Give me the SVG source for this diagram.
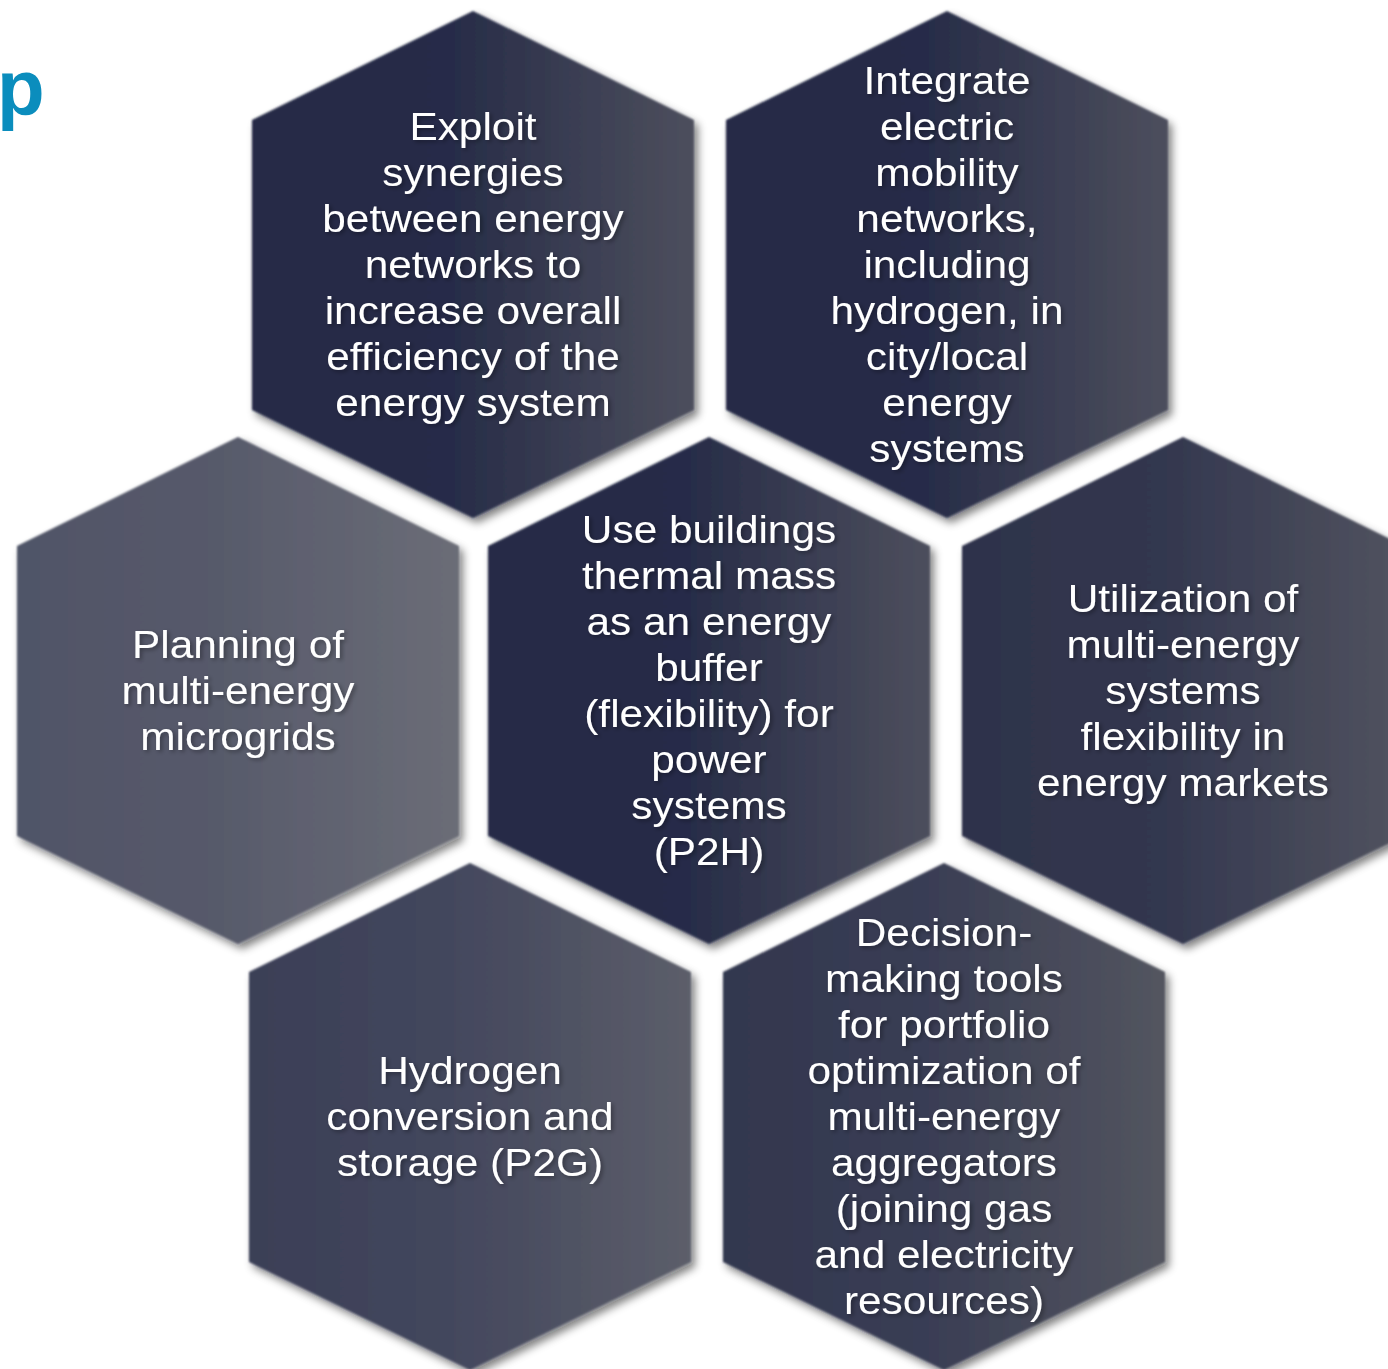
<svg xmlns="http://www.w3.org/2000/svg" width="1388" height="1369" viewBox="0 0 1388 1369">
  <style>
    .lbl { font-family: "Liberation Sans", Arial, sans-serif; font-size: 38px; fill: #ffffff; text-anchor: middle; filter: url(#txtShadow); }
    .hex { filter: url(#hexFx); }
    .title { font-family: "Liberation Sans", Arial, sans-serif; font-size: 78px; font-weight: bold; fill: #0b8dbd; }
  </style>
  <defs>
    <!-- hexagon: pointy top, half-width 221, height 507 -->
    <polygon id="hexShape" points="0,0 221,109 221,399 0,507 -221,399 -221,109"/>
    <filter id="hexFx" x="-10%" y="-10%" width="125%" height="125%">
      <feGaussianBlur in="SourceAlpha" stdDeviation="4" result="blur"/>
      <feOffset in="blur" dx="4" dy="5" result="off"/>
      <feFlood flood-color="#000000" flood-opacity="0.5"/>
      <feComposite in2="off" operator="in" result="shadow"/>
      <feGaussianBlur in="SourceGraphic" stdDeviation="0.9" result="soft"/>
      <feMerge>
        <feMergeNode in="shadow"/>
        <feMergeNode in="soft"/>
      </feMerge>
    </filter>
    <filter id="txtShadow" x="-10%" y="-10%" width="125%" height="125%">
      <feDropShadow dx="2" dy="2" stdDeviation="2" flood-color="#000000" flood-opacity="0.35"/>
    </filter>
    <linearGradient id="gNavy" x1="0" y1="0" x2="1" y2="0">
      <stop offset="0" stop-color="#252a46"/>
      <stop offset="0.45" stop-color="#272c48"/>
      <stop offset="1" stop-color="#4d4f5d"/>
    </linearGradient>
    <linearGradient id="gGrey" x1="0" y1="0" x2="1" y2="0">
      <stop offset="0" stop-color="#505467"/>
      <stop offset="0.45" stop-color="#575a6b"/>
      <stop offset="1" stop-color="#6b6d77"/>
    </linearGradient>
    <linearGradient id="gSlate" x1="0" y1="0" x2="1" y2="0">
      <stop offset="0" stop-color="#2e334b"/>
      <stop offset="0.45" stop-color="#33374f"/>
      <stop offset="1" stop-color="#51535f"/>
    </linearGradient>
    <linearGradient id="gMist" x1="0" y1="0" x2="1" y2="0">
      <stop offset="0" stop-color="#3b3f57"/>
      <stop offset="0.45" stop-color="#43475d"/>
      <stop offset="1" stop-color="#5c5e6a"/>
    </linearGradient>
    <linearGradient id="gDusk" x1="0" y1="0" x2="1" y2="0">
      <stop offset="0" stop-color="#33374f"/>
      <stop offset="0.45" stop-color="#393d54"/>
      <stop offset="1" stop-color="#53555f"/>
    </linearGradient>
  </defs>

  <rect width="1388" height="1369" fill="#ffffff"/>

  <!-- partial heading letter at the left edge -->
  <text class="title" x="-3" y="115">p</text>

  <g id="connectors"/>

  <g id="node-exploit">
    <use href="#hexShape" class="hex" fill="url(#gNavy)" transform="translate(473,11)"/>
    <text class="lbl" transform="translate(473,0) scale(1.115,1)"><tspan x="0" y="140">Exploit</tspan><tspan x="0" y="186">synergies</tspan><tspan x="0" y="232">between energy</tspan><tspan x="0" y="278">networks to</tspan><tspan x="0" y="324">increase overall</tspan><tspan x="0" y="370">efficiency of the</tspan><tspan x="0" y="416">energy system</tspan></text>
  </g>

  <g id="node-integrate">
    <use href="#hexShape" class="hex" fill="url(#gNavy)" transform="translate(947,11)"/>
    <text class="lbl" transform="translate(947,0) scale(1.115,1)"><tspan x="0" y="94">Integrate</tspan><tspan x="0" y="140">electric</tspan><tspan x="0" y="186">mobility</tspan><tspan x="0" y="232">networks,</tspan><tspan x="0" y="278">including</tspan><tspan x="0" y="324">hydrogen, in</tspan><tspan x="0" y="370">city/local</tspan><tspan x="0" y="416">energy</tspan><tspan x="0" y="462">systems</tspan></text>
  </g>

  <g id="node-planning">
    <use href="#hexShape" class="hex" fill="url(#gGrey)" transform="translate(238,437)"/>
    <text class="lbl" transform="translate(238,0) scale(1.115,1)"><tspan x="0" y="658">Planning of</tspan><tspan x="0" y="704">multi-energy</tspan><tspan x="0" y="750">microgrids</tspan></text>
  </g>

  <g id="node-buildings">
    <use href="#hexShape" class="hex" fill="url(#gNavy)" transform="translate(709,437)"/>
    <text class="lbl" transform="translate(709,0) scale(1.115,1)"><tspan x="0" y="543">Use buildings</tspan><tspan x="0" y="589">thermal mass</tspan><tspan x="0" y="635">as an energy</tspan><tspan x="0" y="681">buffer</tspan><tspan x="0" y="727">(flexibility) for</tspan><tspan x="0" y="773">power</tspan><tspan x="0" y="819">systems</tspan><tspan x="0" y="865">(P2H)</tspan></text>
  </g>

  <g id="node-utilization">
    <use href="#hexShape" class="hex" fill="url(#gSlate)" transform="translate(1183,437)"/>
    <text class="lbl" transform="translate(1183,0) scale(1.115,1)"><tspan x="0" y="612">Utilization of</tspan><tspan x="0" y="658">multi-energy</tspan><tspan x="0" y="704">systems</tspan><tspan x="0" y="750">flexibility in</tspan><tspan x="0" y="796">energy markets</tspan></text>
  </g>

  <g id="node-hydrogen">
    <use href="#hexShape" class="hex" fill="url(#gMist)" transform="translate(470,863)"/>
    <text class="lbl" transform="translate(470,0) scale(1.115,1)"><tspan x="0" y="1084">Hydrogen</tspan><tspan x="0" y="1130">conversion and</tspan><tspan x="0" y="1176">storage (P2G)</tspan></text>
  </g>

  <g id="node-decision">
    <use href="#hexShape" class="hex" fill="url(#gDusk)" transform="translate(944,863)"/>
    <text class="lbl" transform="translate(944,0) scale(1.115,1)"><tspan x="0" y="946">Decision-</tspan><tspan x="0" y="992">making tools</tspan><tspan x="0" y="1038">for portfolio</tspan><tspan x="0" y="1084">optimization of</tspan><tspan x="0" y="1130">multi-energy</tspan><tspan x="0" y="1176">aggregators</tspan><tspan x="0" y="1222">(joining gas</tspan><tspan x="0" y="1268">and electricity</tspan><tspan x="0" y="1314">resources)</tspan></text>
  </g>
</svg>
